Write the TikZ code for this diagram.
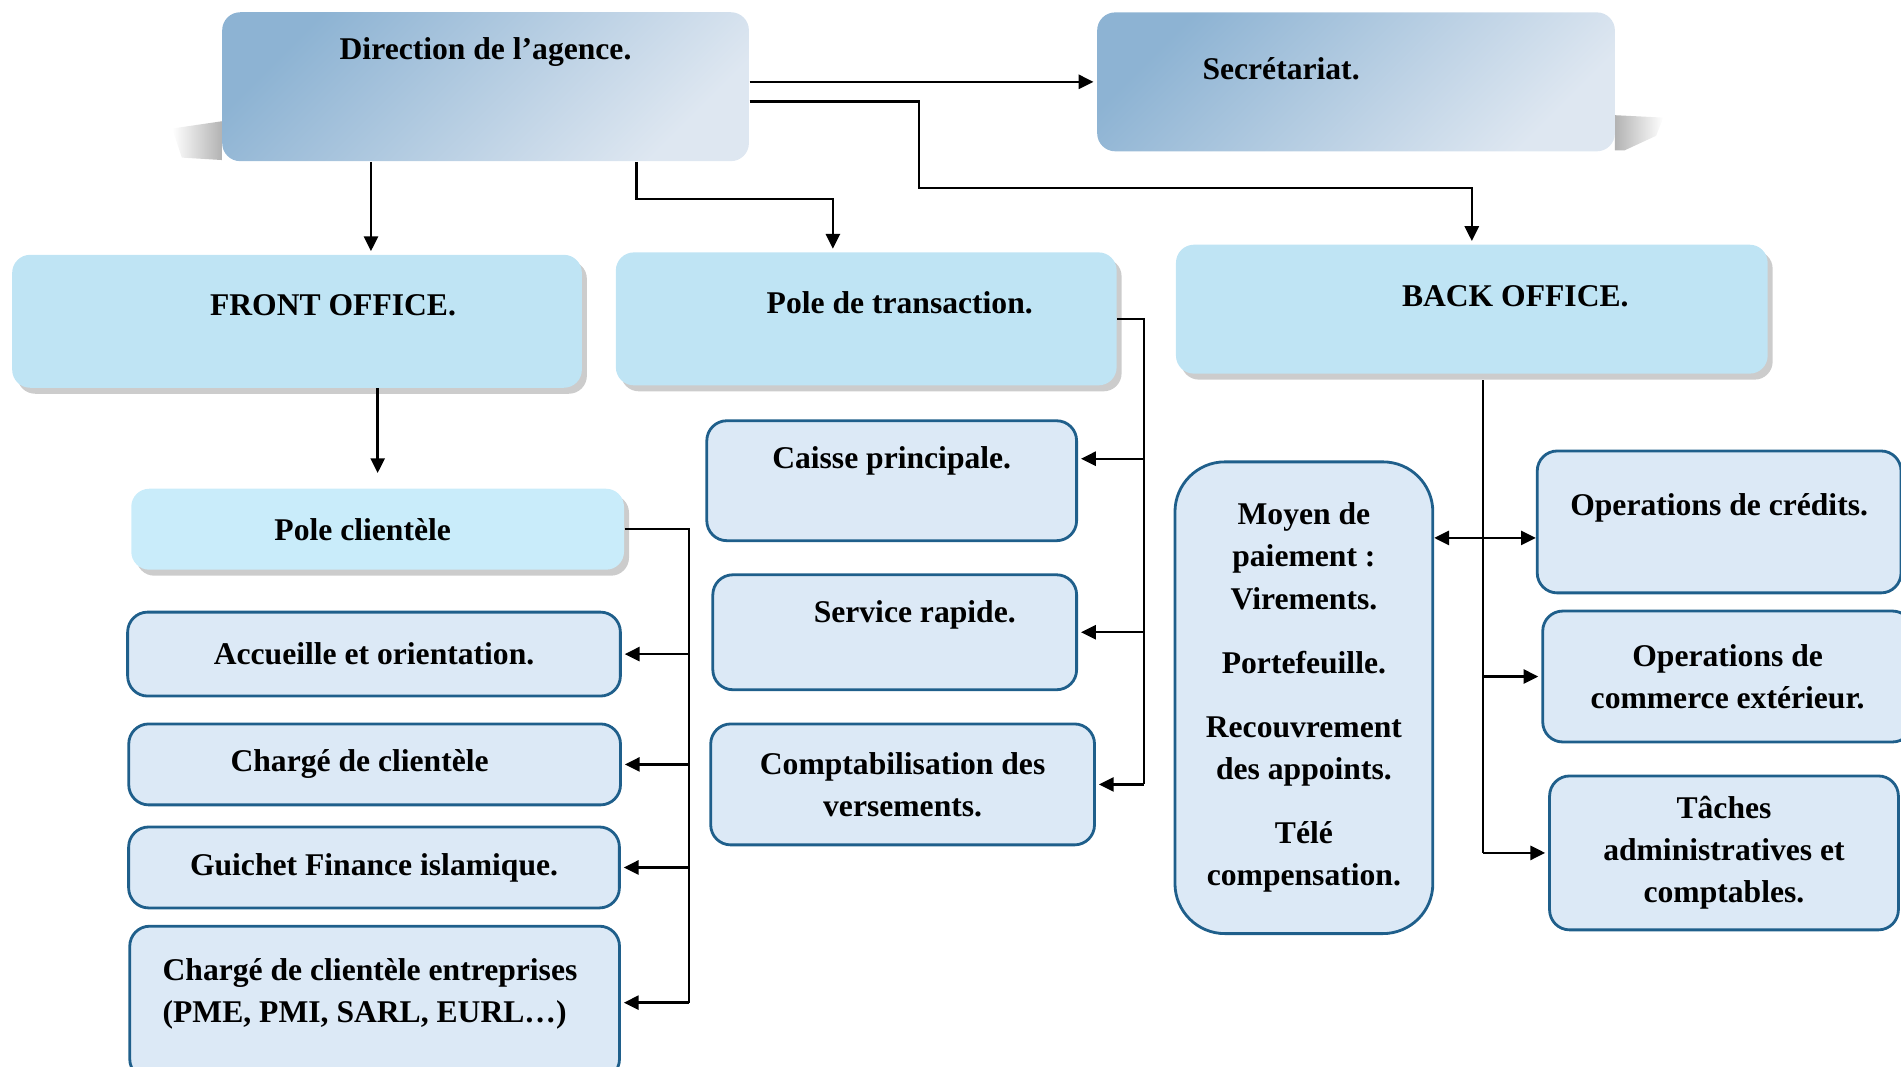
\documentclass[tikz,border=0pt]{standalone}
\usepackage{fontspec}
\setmainfont{Liberation Serif}
\usetikzlibrary{arrows.meta,shadows}

\definecolor{headdark}{RGB}{141,179,211}
\definecolor{headlight}{RGB}{222,231,241}
\definecolor{officeblue}{RGB}{191,228,244}
\definecolor{poleblue}{RGB}{201,236,250}
\definecolor{taskfill}{RGB}{220,233,246}
\definecolor{taskline}{RGB}{31,95,139}

\begin{document}
\begin{tikzpicture}[x = 0.012124cm, y = -0.012124cm,
	font = \fontsize{9}{12}\selectfont\bfseries,
	head/.style = {rounded corners = 0.18cm, top color = headdark,
				   bottom color = headlight, shading angle = 45},
	office/.style = {rounded corners = 0.18cm, fill = officeblue,
					 drop shadow = {shadow xshift = 0.05cm, shadow yshift = -0.06cm,
									fill = black!40}},
	task/.style = {draw = taskline, line width = 0.8pt, rounded corners = 0.2cm,
				   fill = taskfill, align = center},
	link/.style = {line width = 0.7pt},
	arr/.style = {link, -{Triangle[length = 4.2pt, width = 4pt]}, shorten >= 0.03cm},
	darr/.style = {link, {Triangle[length = 4.2pt, width = 4pt]}-{Triangle[length = 4.2pt, width = 4pt]}}]

	\useasboundingbox (0,0) rectangle (1568,880);

	\shade[left color = white, right color = black!30]
		(142,106) -- (183,100) -- (183,132) -- (150,130) -- cycle;
	\shade[left color = black!30, right color = white]
		(1332,95) -- (1372,97) -- (1366,112) -- (1340,124) -- (1332,124) -- cycle;

	\draw (400.5,71.5) node[head, minimum width = 5.27cm, minimum height = 1.49cm,
					 text depth = 0.76cm] (dir) {Direction de l’agence.};
	\draw (1118.5,67.5) node[head, minimum width = 5.18cm, minimum height = 1.39cm,
					 text depth = 0.27cm] (sec) {Secrétariat.\hspace*{1.5cm}};

	\draw (245,265) node[office, minimum width = 5.70cm, minimum height = 1.33cm,
					 text depth = 0.33cm] (front) {\hspace*{0.72cm}FRONT OFFICE.};
	\draw (714.5,263) node[office, minimum width = 5.01cm, minimum height = 1.33cm,
					 text depth = 0.33cm] (trans) {\hspace*{0.67cm}Pole de transaction.};
	\draw (1214,255) node[office, minimum width = 5.92cm, minimum height = 1.29cm,
					 text depth = 0.26cm] (back) {\hspace*{0.87cm}BACK OFFICE.};

	\draw (311.5,436.5) node[office, fill = poleblue, minimum width = 4.93cm,
					 minimum height = 0.81cm] (pcli) {Pole clientèle\hspace*{0.3cm}};
	\draw (308.5,539.5) node[task, minimum width = 4.93cm,
					 minimum height = 0.84cm] (acc) {Accueille et orientation.};
	\draw (309,630.5) node[task, minimum width = 4.92cm,
					 minimum height = 0.81cm] (chg) {Chargé de clientèle\hspace*{0.3cm}};
	\draw (308.5,715.5) node[task, minimum width = 4.91cm,
					 minimum height = 0.81cm] (gui) {Guichet Finance islamique.};
	\draw (309,827) node[task, align = left, minimum width = 4.90cm,
					 minimum height = 1.53cm, text depth = 0.25cm] (ent) {Chargé de clientèle entreprises\\(PME, PMI, SARL, EURL…)\hspace*{0.2cm}};

	\draw (735.5,396.5) node[task, minimum width = 3.70cm, minimum height = 1.20cm,
					 text depth = 0.47cm] (caisse) {Caisse principale.};
	\draw (738,521.5) node[task, minimum width = 3.64cm, minimum height = 1.15cm,
					 text depth = 0.42cm] (serv) {\hspace*{0.4cm}Service rapide.};
	\draw (744.5,647) node[task, minimum width = 3.84cm,
					 minimum height = 1.21cm] (compta) {Comptabilisation des\\versements.};

	\draw (1075.5,575.5) node[task, rounded corners = 0.5cm, minimum width = 2.58cm,
					 minimum height = 4.72cm] (moyen) {Moyen de\\paiement :\\Virements.\\[0.22cm]Portefeuille.\\[0.22cm]Recouvrement\\des appoints.\\[0.22cm]Télé\\compensation.};
	\draw (1418,430.5) node[task, minimum width = 3.64cm, minimum height = 1.42cm,
					 text depth = 0.35cm] (opcred) {Operations de crédits.};
	\draw (1425,558) node[task, minimum width = 3.70cm,
					 minimum height = 1.31cm] (comm) {Operations de\\commerce extérieur.};
	\draw (1422,703.5) node[task, minimum width = 3.49cm,
					 minimum height = 1.54cm] (taches) {Tâches\\administratives et\\comptables.};

	\draw[arr] (dir.east |- sec.west) -- (sec.west);
	\draw[arr] ([yshift = -0.15cm]dir.east) -| (758,155) -| (back.north);
	\draw[arr] (306,0 |- dir.south) -- (306,0 |- front.north);
	\draw[arr] (525,0 |- dir.south) |- (687,164) -- (687,0 |- trans.north);
	\draw[arr] (pcli.north |- front.south) -- ([yshift = 0.12cm]pcli.north);

	\draw[link] (pcli.east) -- ++(53,0) coordinate (ftrunk) -- (ftrunk |- ent.east);
	\foreach \n in {acc,chg,gui,ent}
		\draw[arr] (ftrunk |- \n.east) -- (\n.east);

	\draw[link] (trans.east) -- ++(22,0) coordinate (ttrunk) -- (ttrunk |- compta.east);
	\path ([yshift = 0.22cm]caisse.east) coordinate (cin);
	\draw[arr] (ttrunk |- cin) -- (cin);
	\foreach \n in {serv,compta}
		\draw[arr] (ttrunk |- \n.east) -- (\n.east);

	\draw[link] ([xshift = 0.11cm, yshift = -0.06cm]back.south) coordinate (btrunk)
		-- (btrunk |- taches.west);
	\path ([yshift = -0.16cm]opcred.west) coordinate (ocin);
	\draw[darr] (moyen.east |- ocin) -- (ocin);
	\foreach \n in {comm,taches}
		\draw[arr] (btrunk |- \n.west) -- (\n.west);
\end{tikzpicture}
\end{document}
